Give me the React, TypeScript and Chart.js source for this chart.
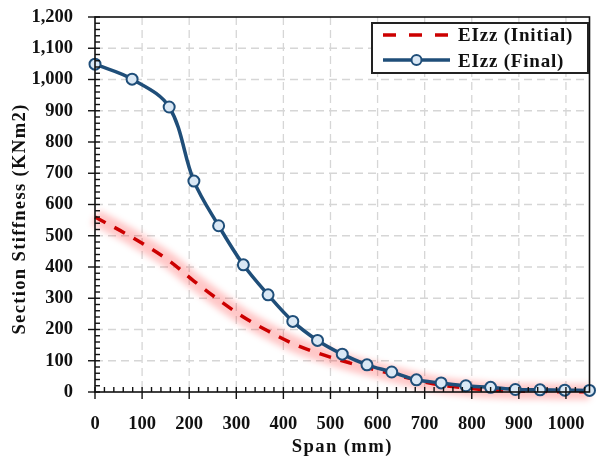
import React, { useEffect, useRef } from "react";
import { Chart, registerables } from "chart.js";

Chart.register(...registerables);

const spanMm = [0, 78.75, 157.5, 210, 262.5, 315, 367.5, 420, 472.5, 525, 577.5, 630, 682.5, 735, 787.5, 840, 892.5, 945, 997.5, 1050];
const eizzFinal = [1049, 1001, 912, 675, 532, 407, 311, 226, 165, 121, 87, 64, 39, 29, 20, 15, 8, 7, 6, 5];
const eizzInitial = [560, 495, 420, 355, 295, 240, 195, 155, 125, 100, 78, 58, 38, 22, 13, 6, 3, 2, 1, 1];
const xTicks = [0, 100, 200, 300, 400, 500, 600, 700, 800, 900, 1000];
const yTicks = [0, 100, 200, 300, 400, 500, 600, 700, 800, 900, 1000, 1100, 1200];
const seriesLabels = ["EIzz (Initial)", "EIzz (Final)"];
const xTitle = "Span (mm)";
const yTitle = "Section Stiffness (KNm2)";

const FONT = "'Liberation Serif', 'Times New Roman', serif";
const RED = "#cc0000";
const BLUE = "#1f4e79";
const MARKER_FILL = "#dae8f5";

const glowPlugin = {
  id: "glow",
  beforeDatasetDraw(chart: any, args: any) {
    if (args.index === 2) {
      chart.ctx.save();
      chart.ctx.filter = "blur(3px)";
    }
  },
  afterDatasetDraw(chart: any, args: any) {
    if (args.index === 2) {
      chart.ctx.filter = "none";
      chart.ctx.restore();
    }
  },
};

const framePlugin = {
  id: "frame",
  beforeDatasetsDraw(chart: any) {
    const { ctx, chartArea: a, scales } = chart;
    ctx.save();
    ctx.strokeStyle = "#d6d6d6";
    ctx.lineWidth = 1.3;
    ctx.setLineDash([8, 5]);
    xTicks.forEach((v) => {
      if (v === 0) return;
      const x = scales.x.getPixelForValue(v);
      ctx.beginPath();
      ctx.moveTo(x, a.top);
      ctx.lineTo(x, a.bottom);
      ctx.stroke();
    });
    yTicks.forEach((v) => {
      if (v === 0 || v === 1200) return;
      const y = scales.y.getPixelForValue(v);
      ctx.beginPath();
      ctx.moveTo(a.left, y);
      ctx.lineTo(a.right, y);
      ctx.stroke();
    });
    ctx.restore();
  },
  afterDraw(chart: any) {
    const { ctx, chartArea: a, scales } = chart;
    ctx.save();
    ctx.strokeStyle = "#111";
    ctx.lineWidth = 1.6;
    ctx.setLineDash([]);
    ctx.strokeRect(a.left, a.top, a.right - a.left, a.bottom - a.top);
    ctx.lineWidth = 1.4;
    for (let v = 0; v <= 1200; v += 20) {
      const y = scales.y.getPixelForValue(v);
      const major = v % 100 === 0;
      ctx.beginPath();
      ctx.moveTo(major ? a.left - 7 : a.left, y);
      ctx.lineTo(a.left + 5, y);
      ctx.stroke();
    }
    for (let v = 0; v <= 1040; v += 20) {
      const x = scales.x.getPixelForValue(v);
      const major = v % 100 === 0;
      ctx.beginPath();
      ctx.moveTo(x, a.bottom - 5);
      ctx.lineTo(x, major ? a.bottom + 7 : a.bottom);
      ctx.stroke();
    }
    // titles
    ctx.fillStyle = "#111";
    ctx.font = `bold 18.67px ${FONT}`;
    ctx.textAlign = "center";
    ctx.textBaseline = "alphabetic";
    (ctx as any).letterSpacing = "1.4px";
    ctx.fillText(xTitle, (a.left + a.right) / 2, 452);
    ctx.save();
    ctx.translate(24.5, 219);
    ctx.rotate(-Math.PI / 2);
    (ctx as any).letterSpacing = "1.3px";
    ctx.fillText(yTitle, 0, 0);
    ctx.restore();
    (ctx as any).letterSpacing = "0px";
    // legend
    const bx = 372, by = 23, bw = 216, bh = 50;
    ctx.fillStyle = "#fff";
    ctx.fillRect(bx, by, bw, bh);
    ctx.lineWidth = 2;
    ctx.strokeStyle = "#222";
    ctx.strokeRect(bx, by, bw, bh);
    const r1 = 35, r2 = 60;
    ctx.lineWidth = 3.5;
    ctx.strokeStyle = RED;
    ctx.setLineDash([13, 13]);
    ctx.beginPath();
    ctx.moveTo(383, r1);
    ctx.lineTo(450, r1);
    ctx.stroke();
    ctx.setLineDash([]);
    ctx.strokeStyle = BLUE;
    ctx.beginPath();
    ctx.moveTo(383, r2);
    ctx.lineTo(450, r2);
    ctx.stroke();
    ctx.beginPath();
    ctx.arc(416.5, r2, 5, 0, Math.PI * 2);
    ctx.fillStyle = MARKER_FILL;
    ctx.fill();
    ctx.lineWidth = 2;
    ctx.stroke();
    ctx.fillStyle = "#111";
    ctx.textAlign = "left";
    ctx.textBaseline = "alphabetic";
    ctx.font = `bold 19px ${FONT}`;
    (ctx as any).letterSpacing = "0.8px";
    ctx.fillText(seriesLabels[0], 458, 41);
    ctx.fillText(seriesLabels[1], 458, 66.5);
    (ctx as any).letterSpacing = "0px";
    ctx.restore();
  },
};

export default function App() {
  const ref = useRef<HTMLCanvasElement | null>(null);
  useEffect(() => {
    const canvas = ref.current;
    if (!canvas) return;
    const finalPts = spanMm.map((x, i) => ({ x, y: eizzFinal[i] }));
    const initPts = spanMm.map((x, i) => ({ x, y: eizzInitial[i] }));
    const chart = new Chart(canvas, {
      type: "line",
      data: {
        datasets: [
          {
            label: seriesLabels[1],
            data: finalPts,
            borderColor: BLUE,
            borderWidth: 3.5,
            backgroundColor: MARKER_FILL,
            pointBackgroundColor: MARKER_FILL,
            pointBorderColor: BLUE,
            pointBorderWidth: 2,
            pointRadius: 5.5,
            tension: 0.35,
            clip: false,
            order: 1,
          } as any,
          {
            label: seriesLabels[0],
            data: initPts,
            borderColor: RED,
            borderWidth: 3.5,
            borderDash: [12, 10],
            pointRadius: 0,
            cubicInterpolationMode: "monotone",
            clip: false,
            order: 2,
          } as any,
          {
            label: "glow",
            data: initPts,
            borderColor: "rgba(255,0,0,0.22)",
            borderWidth: 16,
            pointRadius: 0,
            cubicInterpolationMode: "monotone",
            clip: false,
            order: 3,
          } as any,
        ],
      },
      options: {
        responsive: false,
        animation: false,
        layout: { padding: { top: 17, right: 7, left: 0, bottom: 0 } },
        plugins: { legend: { display: false }, tooltip: { enabled: false } },
        scales: {
          x: {
            type: "linear",
            min: 0,
            max: 1050,
            afterBuildTicks: (s: any) => {
              s.ticks = xTicks.map((v) => ({ value: v }));
            },
            afterFit: (s: any) => {
              s.height = 69;
              s.paddingLeft = 0;
              s.paddingRight = 0;
              s.paddingTop = 0;
              s.paddingBottom = 0;
            },
            grid: { display: false, drawTicks: false },
            border: { display: false },
            ticks: {
              padding: 21,
              color: "#111",
              font: { family: FONT, size: 18.5, weight: "bold" },
              callback: (v: any) => String(v),
              maxRotation: 0,
              autoSkip: false,
            },
          },
          y: {
            type: "linear",
            min: 0,
            max: 1200,
            afterBuildTicks: (s: any) => {
              s.ticks = yTicks.map((v) => ({ value: v }));
            },
            afterFit: (s: any) => {
              s.width = 95;
              s.paddingLeft = 0;
              s.paddingRight = 0;
              s.paddingTop = 0;
              s.paddingBottom = 0;
            },
            grid: { display: false, drawTicks: false },
            border: { display: false },
            ticks: {
              padding: 22,
              color: "#111",
              font: { family: FONT, size: 18.5, weight: "bold" },
              callback: (v: any) => Number(v).toLocaleString("en-US"),
              autoSkip: false,
            },
          },
        },
      } as any,
      plugins: [glowPlugin, framePlugin],
    });
    return () => chart.destroy();
  }, []);
  return (
    <div style={{ position: "absolute", left: 0, top: 0, width: 597, height: 461, background: "#fff" }}>
      <canvas ref={ref} width={597} height={461} style={{ width: 597, height: 461, display: "block" }} />
    </div>
  );
}
